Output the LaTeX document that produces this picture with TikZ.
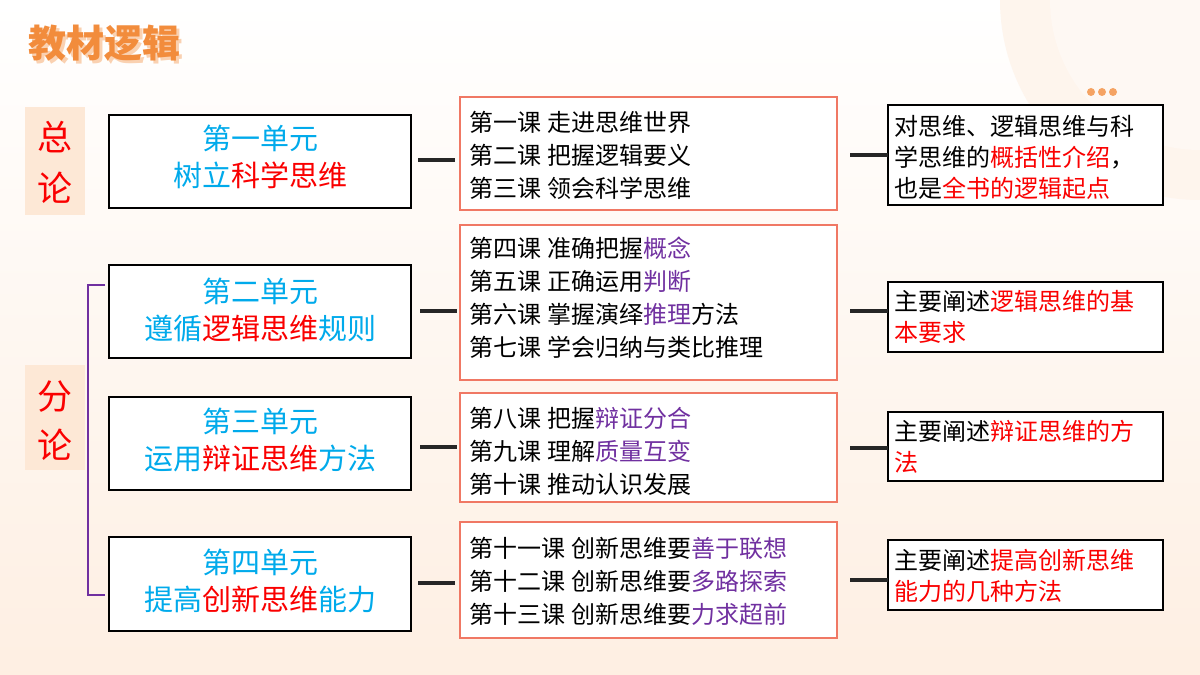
\documentclass[tikz,border=0pt]{standalone}
\usepackage{fontspec}
\setmainfont{Noto Sans CJK SC}
\definecolor{ucyan}{RGB}{0,170,235}
\definecolor{ured}{RGB}{250,0,0}
\definecolor{upur}{RGB}{112,48,160}
\definecolor{salmon}{RGB}{240,120,100}
\definecolor{peach}{RGB}{253,232,214}
\definecolor{ttl}{RGB}{242,140,60}
\newcommand{\R}[1]{\textcolor{ured}{#1}}
\newcommand{\Pu}[1]{\textcolor{upur}{#1}}
\newcommand{\gapsp}{\hspace{6bp}}
\begin{document}
\begin{tikzpicture}[x=1bp,y=-1bp,
  unitbox/.style={draw=black,line width=2.2bp,fill=white},
  lesbox/.style={draw=salmon,line width=1.8bp,fill=white},
  sumbox/.style={draw=black,line width=2bp,fill=white},
  link/.style={line width=3.5bp,draw=black!85},
  utext/.style={font=\fontsize{29bp}{37bp}\selectfont,align=center,text=ucyan},
  ltext/.style={font=\fontsize{24bp}{33bp}\selectfont,align=left,anchor=west},
  stext/.style={font=\fontsize{24bp}{31bp}\selectfont,align=left,anchor=west},
  side/.style={fill=peach},
  sidech/.style={font=\fontsize{35bp}{40bp}\selectfont,text=ured}]
\useasboundingbox (0,0) rectangle (1200,675);
\shade[top color=white,bottom color=peach!70] (0,0) rectangle (1200,675);
\fill[peach!45] (1200,0) circle (200);
\fill[white!70!peach] (1200,0) circle (150);
\foreach \x in {1091,1102,1113} \fill[ttl!80] (\x,92) circle (4);
\node[font=\fontsize{38bp}{40bp}\selectfont\bfseries,text=ttl!40,anchor=west] (shadow) at (28,46) {教材逻辑};
\node[font=\fontsize{38bp}{40bp}\selectfont\bfseries,text=ttl,anchor=west] (title) at (25,43) {教材逻辑};
% side labels
\fill[side] (25,107) rectangle (85,215);
\node[sidech] (z1) at (55,137) {总};
\node[sidech] (z2) at (55,188) {论};
\fill[side] (25,365) rectangle (85,470);
\node[sidech] (f1) at (55,397) {分};
\node[sidech] (f2) at (55,445) {论};
\draw[upur,line width=1.5bp] (105,285) -- (88,285) -- (88,595) -- (105,595);
% unit boxes
\draw[unitbox] (109,115) rectangle (411,208);
\draw[unitbox] (109,265) rectangle (411,358);
\draw[unitbox] (109,397) rectangle (411,490);
\draw[unitbox] (109,537) rectangle (411,631);
\node[utext] (u1) at (260,157) {第一单元\\树立\R{科学思维}};
\node[utext] (u2) at (260,310) {第二单元\\遵循\R{逻辑思维}规则};
\node[utext] (u3) at (260,440) {第三单元\\运用\R{辩证思维}方法};
\node[utext] (u4) at (260,581) {第四单元\\提高\R{创新思维}能力};
% lesson boxes
\draw[lesbox] (460,97) rectangle (837,210);
\draw[lesbox] (460,225) rectangle (837,380);
\draw[lesbox] (460,393) rectangle (837,502);
\draw[lesbox] (460,522) rectangle (837,638);
\node[ltext] (l1) at (466,155) {第一课\gapsp 走进思维世界\\第二课\gapsp 把握逻辑要义\\第三课\gapsp 领会科学思维};
\node[ltext] (l2) at (466,298) {第四课\gapsp 准确把握\Pu{概念}\\第五课\gapsp 正确运用\Pu{判断}\\第六课\gapsp 掌握演绎\Pu{推理}方法\\第七课\gapsp 学会归纳与类比推理};
\node[ltext] (l3) at (466,451) {第八课\gapsp 把握\Pu{辩证分合}\\第九课\gapsp 理解\Pu{质量互变}\\第十课\gapsp 推动认识发展};
\node[ltext] (l4) at (466,581) {第十一课\gapsp 创新思维要\Pu{善于联想}\\第十二课\gapsp 创新思维要\Pu{多路探索}\\第十三课\gapsp 创新思维要\Pu{力求超前}};
% summary boxes
\draw[sumbox] (888,105) rectangle (1163,205);
\draw[sumbox] (888,282) rectangle (1163,352);
\draw[sumbox] (888,412) rectangle (1163,481);
\draw[sumbox] (888,540) rectangle (1163,610);
\node[stext] (s1) at (891,157) {对思维、逻辑思维与科\\学思维的\R{概括性介绍}，\\也是\R{全书的逻辑起点}};
\node[stext] (s2) at (891,317) {主要阐述\R{逻辑思维的基}\\\R{本要求}};
\node[stext] (s3) at (891,447) {主要阐述\R{辩证思维的方}\\\R{法}};
\node[stext] (s4) at (891,576) {主要阐述\R{提高创新思维}\\\R{能力的几种方法}};
% links
\coordinate (a1) at (418,160); \coordinate (b1) at (455,160);
\coordinate (a2) at (420,311); \coordinate (b2) at (457,311);
\coordinate (a3) at (420,447); \coordinate (b3) at (457,447);
\coordinate (a4) at (418,583); \coordinate (b4) at (455,583);
\foreach \i in {1,...,4} \draw[link] (a\i) -- (b\i);
\coordinate (c1) at (850,155); \coordinate (d1) at (888,155);
\coordinate (c2) at (850,311); \coordinate (d2) at (888,311);
\coordinate (c3) at (850,448); \coordinate (d3) at (888,448);
\coordinate (c4) at (850,580); \coordinate (d4) at (888,580);
\foreach \i in {1,...,4} \draw[link] (c\i) -- (d\i);
\end{tikzpicture}
\end{document}
